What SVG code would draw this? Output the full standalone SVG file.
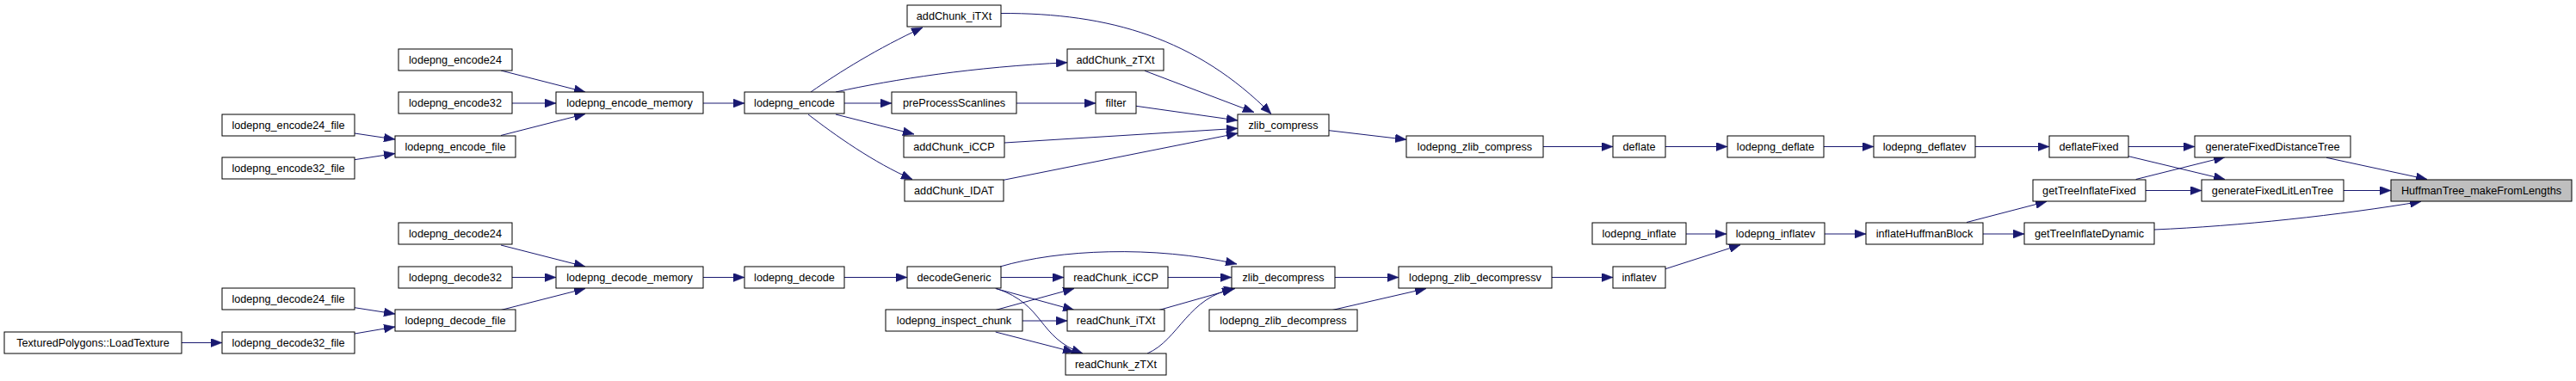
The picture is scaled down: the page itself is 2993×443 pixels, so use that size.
<svg xmlns="http://www.w3.org/2000/svg" width="2993" height="443" viewBox="0 0 2993 443">
<style>
.n rect{fill:#ffffff;stroke:#000000;stroke-width:1}
.n.hl rect{fill:#bfbfbf}
.n text{font-family:"Liberation Sans",Arial,sans-serif;font-size:12.7px;fill:#000000;text-anchor:middle}
#edges path{fill:none;stroke:#191970;stroke-width:1;marker-end:url(#ah)}
</style>
<defs>
<marker id="ah" markerUnits="userSpaceOnUse" viewBox="0 0 13 10" markerWidth="13" markerHeight="10" refX="13" refY="5" orient="auto">
<path d="M0,0 L13,5 L0,10 z" fill="#191970" stroke="#191970" stroke-width="0.5"/>
</marker>
</defs>
<rect width="2993" height="443" fill="#ffffff"/>
<g id="edges">
<path d="M211,398.5 L258,398.5"/>
<path d="M412,357.7 L459,365"/>
<path d="M412,388 L459,380"/>
<path d="M412,155 L459,162"/>
<path d="M412,185.7 L459,178.5"/>
<path d="M582,82 L680,107"/>
<path d="M595,120 L646,120"/>
<path d="M582,157.5 L680,132.5"/>
<path d="M582,285 L680,310"/>
<path d="M595,322.5 L646,322.5"/>
<path d="M582,360.5 L680,335.5"/>
<path d="M817,120 L865,120"/>
<path d="M817,322.5 L865,322.5"/>
<path d="M981,322.5 L1054,322.5"/>
<path d="M942,107 C975,84 1020,56 1072,32"/>
<path d="M971,107 C1040,92 1130,78 1240,72.7"/>
<path d="M981,120 L1036,120"/>
<path d="M971,133 L1062,156"/>
<path d="M939,133 C970,157 1015,189 1060,208.5"/>
<path d="M1181,120 L1273,120"/>
<path d="M1163,15.5 C1290,15 1390,45 1477,132.5"/>
<path d="M1330,82.3 L1457,130.5"/>
<path d="M1320,123.3 L1438,140"/>
<path d="M1167,166 L1438,149.3"/>
<path d="M1166,209.3 L1438,155"/>
<path d="M1544,151.7 L1634,162.3"/>
<path d="M1793,170.5 L1874,170.5"/>
<path d="M1935,170.5 L2007,170.5"/>
<path d="M2119,170.5 L2177,170.5"/>
<path d="M2295,170.5 L2381,170.5"/>
<path d="M2473,170.5 L2550,170.5"/>
<path d="M2473,181.7 L2585,208.5"/>
<path d="M2481.7,208.5 L2585,182.7"/>
<path d="M2493,221.5 L2558,221.5"/>
<path d="M2703,183.3 L2820,208.5"/>
<path d="M2723,221.5 L2778,221.5"/>
<path d="M2503,267 C2600,263 2720,250 2813,234.3"/>
<path d="M2285,258.5 L2378,234.3"/>
<path d="M2304,272 L2352,272"/>
<path d="M2120,272 L2168,272"/>
<path d="M1959,272 L2006,272"/>
<path d="M1935,312.7 L2022,284.7"/>
<path d="M1803,322.5 L1874,322.5"/>
<path d="M1551,322.5 L1625,322.5"/>
<path d="M1548,360.5 L1657,335.5"/>
<path d="M1162,310 C1230,290 1340,285 1437,307"/>
<path d="M1163,322.5 L1236,322.5"/>
<path d="M1156.7,335.5 L1248,360.5"/>
<path d="M1158,335.5 C1215,355 1205,392 1258,411"/>
<path d="M1156.7,360.5 L1248,335.5"/>
<path d="M1188,373 L1240,373"/>
<path d="M1156.7,386 L1248,409.5"/>
<path d="M1357,322.5 L1431,322.5"/>
<path d="M1346.7,360.5 L1433,336"/>
<path d="M1333,411 C1370,395 1380,345 1435,335.5"/>
</g>
<g id="n_huffman" class="n hl"><rect x="2778" y="209" width="210" height="25"/><text x="2883" y="226">HuffmanTree_makeFromLengths</text></g>
<g id="n_gfdt" class="n"><rect x="2550" y="158" width="181" height="25"/><text x="2640.5" y="175">generateFixedDistanceTree</text></g>
<g id="n_gfllt" class="n"><rect x="2558" y="209" width="165" height="25"/><text x="2640.5" y="226">generateFixedLitLenTree</text></g>
<g id="n_deflateFixed" class="n"><rect x="2381" y="158" width="92" height="25"/><text x="2427" y="175">deflateFixed</text></g>
<g id="n_gtif" class="n"><rect x="2362" y="209" width="131" height="25"/><text x="2427.5" y="226">getTreeInflateFixed</text></g>
<g id="n_gtid" class="n"><rect x="2352" y="259" width="151" height="25"/><text x="2427.5" y="276">getTreeInflateDynamic</text></g>
<g id="n_ihb" class="n"><rect x="2168" y="259" width="136" height="25"/><text x="2236" y="276">inflateHuffmanBlock</text></g>
<g id="n_ldeflatev" class="n"><rect x="2177" y="158" width="118" height="25"/><text x="2236" y="175">lodepng_deflatev</text></g>
<g id="n_linflatev" class="n"><rect x="2006" y="259" width="114" height="25"/><text x="2063" y="276">lodepng_inflatev</text></g>
<g id="n_ldeflate" class="n"><rect x="2007" y="158" width="112" height="25"/><text x="2063" y="175">lodepng_deflate</text></g>
<g id="n_deflate" class="n"><rect x="1874" y="158" width="61" height="25"/><text x="1904.5" y="175">deflate</text></g>
<g id="n_linflate" class="n"><rect x="1850" y="259" width="109" height="25"/><text x="1904.5" y="276">lodepng_inflate</text></g>
<g id="n_inflatev" class="n"><rect x="1874" y="310" width="61" height="25"/><text x="1904.5" y="327">inflatev</text></g>
<g id="n_lzc" class="n"><rect x="1634" y="158" width="159" height="25"/><text x="1713.5" y="175">lodepng_zlib_compress</text></g>
<g id="n_lzdv" class="n"><rect x="1625" y="310" width="178" height="25"/><text x="1714" y="327">lodepng_zlib_decompressv</text></g>
<g id="n_zc" class="n"><rect x="1438" y="133" width="106" height="25"/><text x="1491" y="150">zlib_compress</text></g>
<g id="n_zd" class="n"><rect x="1431" y="310" width="120" height="25"/><text x="1491" y="327">zlib_decompress</text></g>
<g id="n_lzd" class="n"><rect x="1405" y="360" width="172" height="25"/><text x="1491" y="377">lodepng_zlib_decompress</text></g>
<g id="n_act" class="n"><rect x="1054" y="6" width="109" height="25"/><text x="1108.5" y="23">addChunk_iTXt</text></g>
<g id="n_acz" class="n"><rect x="1240" y="57" width="112" height="25"/><text x="1296" y="74">addChunk_zTXt</text></g>
<g id="n_pps" class="n"><rect x="1036" y="107" width="145" height="25"/><text x="1108.5" y="124">preProcessScanlines</text></g>
<g id="n_filter" class="n"><rect x="1273" y="107" width="47" height="25"/><text x="1296.5" y="124">filter</text></g>
<g id="n_acc" class="n"><rect x="1050" y="158" width="117" height="25"/><text x="1108.5" y="175">addChunk_iCCP</text></g>
<g id="n_aci" class="n"><rect x="1051" y="209" width="115" height="25"/><text x="1108.5" y="226">addChunk_IDAT</text></g>
<g id="n_dg" class="n"><rect x="1054" y="310" width="109" height="25"/><text x="1108.5" y="327">decodeGeneric</text></g>
<g id="n_rci" class="n"><rect x="1236" y="310" width="121" height="25"/><text x="1296.5" y="327">readChunk_iCCP</text></g>
<g id="n_lic" class="n"><rect x="1029" y="360" width="159" height="25"/><text x="1108.5" y="377">lodepng_inspect_chunk</text></g>
<g id="n_rct" class="n"><rect x="1240" y="360" width="113" height="25"/><text x="1296.5" y="377">readChunk_iTXt</text></g>
<g id="n_rcz" class="n"><rect x="1238" y="411" width="117" height="25"/><text x="1296.5" y="428">readChunk_zTXt</text></g>
<g id="n_enc" class="n"><rect x="865" y="107" width="116" height="25"/><text x="923" y="124">lodepng_encode</text></g>
<g id="n_dec" class="n"><rect x="865" y="310" width="116" height="25"/><text x="923" y="327">lodepng_decode</text></g>
<g id="n_encm" class="n"><rect x="646" y="107" width="171" height="25"/><text x="731.5" y="124">lodepng_encode_memory</text></g>
<g id="n_decm" class="n"><rect x="646" y="310" width="171" height="25"/><text x="731.5" y="327">lodepng_decode_memory</text></g>
<g id="n_e24" class="n"><rect x="463" y="57" width="132" height="25"/><text x="529" y="74">lodepng_encode24</text></g>
<g id="n_e32" class="n"><rect x="463" y="107" width="132" height="25"/><text x="529" y="124">lodepng_encode32</text></g>
<g id="n_ef" class="n"><rect x="459" y="158" width="140" height="25"/><text x="529" y="175">lodepng_encode_file</text></g>
<g id="n_d24" class="n"><rect x="463" y="259" width="132" height="25"/><text x="529" y="276">lodepng_decode24</text></g>
<g id="n_d32" class="n"><rect x="463" y="310" width="132" height="25"/><text x="529" y="327">lodepng_decode32</text></g>
<g id="n_df" class="n"><rect x="459" y="360" width="140" height="25"/><text x="529" y="377">lodepng_decode_file</text></g>
<g id="n_e24f" class="n"><rect x="258" y="133" width="154" height="25"/><text x="335" y="150">lodepng_encode24_file</text></g>
<g id="n_e32f" class="n"><rect x="258" y="183" width="154" height="25"/><text x="335" y="200">lodepng_encode32_file</text></g>
<g id="n_d24f" class="n"><rect x="258" y="335" width="154" height="25"/><text x="335" y="352">lodepng_decode24_file</text></g>
<g id="n_d32f" class="n"><rect x="258" y="386" width="154" height="25"/><text x="335" y="403">lodepng_decode32_file</text></g>
<g id="n_lt" class="n"><rect x="5" y="386" width="206" height="25"/><text x="108" y="403">TexturedPolygons::LoadTexture</text></g>
</svg>
